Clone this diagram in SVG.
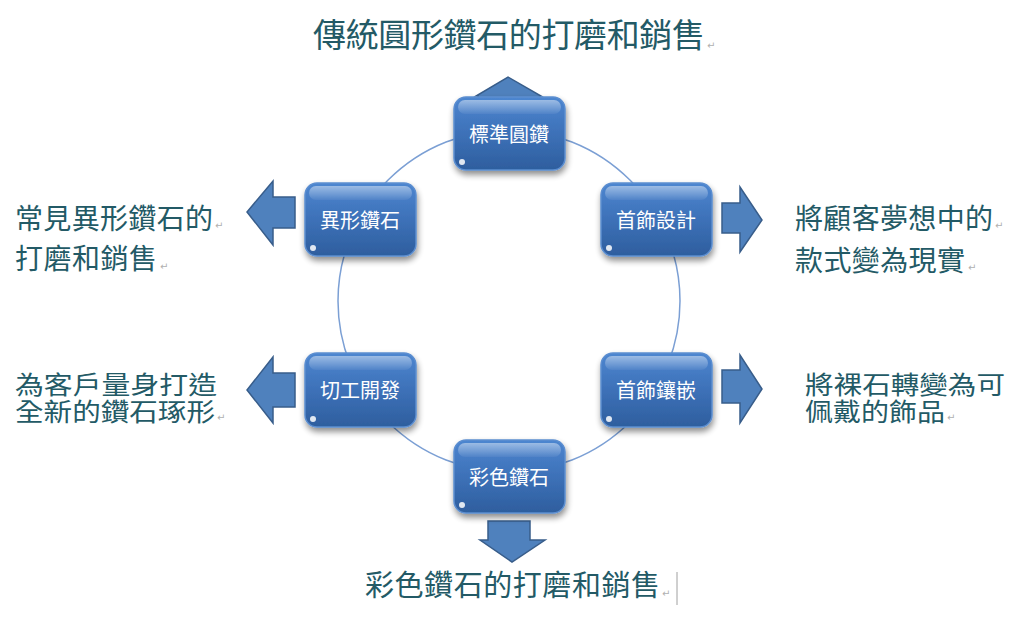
<svg xmlns="http://www.w3.org/2000/svg" width="1024" height="618" viewBox="0 0 1024 618">
<defs>
<linearGradient id="nodeFill" x1="0" y1="0" x2="0" y2="1">
<stop offset="0" stop-color="#4d86d0"/>
<stop offset="0.5" stop-color="#3d71b8"/>
<stop offset="1" stop-color="#2e5e9e"/>
</linearGradient>
<linearGradient id="gloss" x1="0" y1="0" x2="0" y2="1">
<stop offset="0" stop-color="#ffffff" stop-opacity="0.45"/>
<stop offset="1" stop-color="#ffffff" stop-opacity="0.05"/>
</linearGradient>
<filter id="shadow" x="-20%" y="-20%" width="140%" height="150%">
<feGaussianBlur in="SourceAlpha" stdDeviation="3"/>
<feOffset dx="1" dy="4" result="b"/>
<feComponentTransfer><feFuncA type="linear" slope="0.45"/></feComponentTransfer>
<feMerge><feMergeNode/><feMergeNode in="SourceGraphic"/></feMerge>
</filter>
<style>
.node rect.body{fill:url(#nodeFill);stroke:#5c8ed0;stroke-width:1.5;filter:url(#shadow)}
.node rect.gl{fill:url(#gloss)}
.node circle.hl{fill:#ffffff;opacity:0.85}
.node text{fill:#ffffff;font-family:"Noto Sans CJK TC","Noto Sans CJK SC",sans-serif;font-size:20px;text-anchor:middle;dominant-baseline:central}
.arrow{fill:#4f81bd;stroke:#385d8a;stroke-width:1.5}
.lbl{fill:#235a66;font-family:"Noto Sans CJK TC","Noto Sans CJK SC",sans-serif}
.pm{fill:#b0b0b0;font-family:"DejaVu Sans",sans-serif;font-size:10px}
</style>
</defs>
<rect width="1024" height="618" fill="#ffffff"/>

<g id="connectors">
<circle cx="509" cy="301" r="171" fill="none" stroke="#7b9fd4" stroke-width="1.5"/>
<polygon class="arrow" points="478,100 478,96 476,96 508,77 541,96 540,96 540,100"/>
<polygon class="arrow" points="295,197 273,197 273,181 247,212 273,245 273,228 295,228"/>
<polygon class="arrow" points="722,203 740,203 740,187 762,220 740,252 740,233 722,233"/>
<polygon class="arrow" points="295,373 273,373 273,357 247,390 273,423 273,407 295,407"/>
<polygon class="arrow" points="722,370 740,370 740,355 762,389 740,423 740,403 722,403"/>
<polygon class="arrow" points="488,521 530,521 530,540 545,540 512,562 480,540 488,540"/>
</g>

<g id="node-top" class="node">
<rect class="body" x="454" y="97" width="111" height="73" rx="12"/>
<rect class="gl" x="458" y="100" width="103" height="14" rx="7"/>
<circle class="hl" cx="462" cy="162" r="3"/>
<text x="509" y="133">標準圓鑽</text>
</g>
<g id="node-ul" class="node">
<rect class="body" x="305" y="183" width="111" height="73" rx="12"/>
<rect class="gl" x="309" y="186" width="103" height="14" rx="7"/>
<circle class="hl" cx="313" cy="248" r="3"/>
<text x="360" y="219">異形鑽石</text>
</g>
<g id="node-ur" class="node">
<rect class="body" x="601" y="183" width="111" height="73" rx="12"/>
<rect class="gl" x="605" y="186" width="103" height="14" rx="7"/>
<circle class="hl" cx="609" cy="248" r="3"/>
<text x="656" y="219">首飾設計</text>
</g>
<g id="node-ll" class="node">
<rect class="body" x="305" y="353" width="111" height="74" rx="12"/>
<rect class="gl" x="309" y="356" width="103" height="14" rx="7"/>
<circle class="hl" cx="313" cy="419" r="3"/>
<text x="360" y="389">切工開發</text>
</g>
<g id="node-lr" class="node">
<rect class="body" x="601" y="353" width="111" height="74" rx="12"/>
<rect class="gl" x="605" y="356" width="103" height="14" rx="7"/>
<circle class="hl" cx="609" cy="419" r="3"/>
<text x="656" y="389">首飾鑲嵌</text>
</g>
<g id="node-bottom" class="node">
<rect class="body" x="454" y="440" width="111" height="73" rx="12"/>
<rect class="gl" x="458" y="443" width="103" height="14" rx="7"/>
<circle class="hl" cx="462" cy="505" r="3"/>
<text x="509" y="476">彩色鑽石</text>
</g>

<g id="labels">
<text class="lbl" x="313" y="47" font-size="33" textLength="392">傳統圓形鑽石的打磨和銷售</text>
<text class="pm" x="707" y="49">↵</text>

<text class="lbl" x="15" y="229" font-size="28" textLength="198">常見異形鑽石的</text>
<text class="pm" x="215" y="229">↵</text>
<text class="lbl" x="15" y="269" font-size="28" textLength="142">打磨和銷售</text>
<text class="pm" x="160" y="270">↵</text>

<text class="lbl" x="795" y="229" font-size="28" textLength="198">將顧客夢想中的</text>
<text class="pm" x="995" y="229">↵</text>
<text class="lbl" x="795" y="271" font-size="28" textLength="170">款式變為現實</text>
<text class="pm" x="968" y="271">↵</text>

<text class="lbl" font-size="25"><tspan x="15" y="394" textLength="202" lengthAdjust="spacingAndGlyphs">為客戶量身打造</tspan><tspan x="15" y="421" textLength="200" lengthAdjust="spacingAndGlyphs">全新的鑽石琢形</tspan></text>
<text class="pm" x="217" y="421">↵</text>

<text class="lbl" font-size="25"><tspan x="805" y="394" textLength="200" lengthAdjust="spacingAndGlyphs">將裸石轉變為可</tspan><tspan x="805" y="421" textLength="140" lengthAdjust="spacingAndGlyphs">佩戴的飾品</tspan></text>
<text class="pm" x="947" y="421">↵</text>

<text class="lbl" x="365" y="596" font-size="29" textLength="295">彩色鑽石的打磨和銷售</text>
<text class="pm" x="662" y="597">↵</text>
<line x1="677" y1="572" x2="677" y2="605" stroke="#a0a0a0" stroke-width="1"/>
</g>
</svg>
